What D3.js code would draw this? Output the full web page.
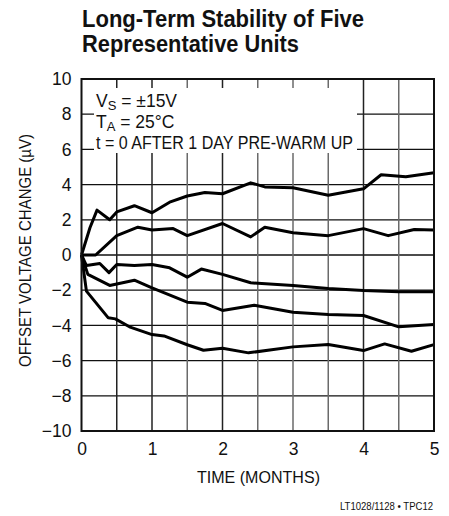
<!DOCTYPE html>
<html><head><meta charset="utf-8">
<script src="https://cdn.jsdelivr.net/npm/d3@7"></script>
<style>
html,body{margin:0;padding:0;background:#fff;}
svg{display:block;}
text{font-family:"Liberation Sans",Arial,sans-serif;fill:#111;}
</style></head>
<body>
<svg id="c" width="449" height="516"></svg>
<script>
// ---- data ----
const titleLines = ["Long-Term Stability of Five", "Representative Units"];
const xTicks = [0, 1, 2, 3, 4, 5];
const xGrid = [0.5, 1, 1.5, 2, 2.5, 3, 3.5, 4, 4.5];
const yTicks = [10, 8, 6, 4, 2, 0, -2, -4, -6, -8, -10];
const yTickLabels = ["10", "8", "6", "4", "2", "0", "\u22122", "\u22124", "\u22126", "\u22128", "\u221210"];
const xLabel = "TIME (MONTHS)";
const yLabel = "OFFSET VOLTAGE CHANGE (\u00B5V)";
const footnote = "LT1028/1128 \u2022 TPC12";

const unit1 = [[0,0],[0.12,1.55],[0.22,2.55],[0.4,2.0],[0.5,2.45],[0.75,2.8],[1.0,2.4],[1.25,3.0],[1.5,3.35],[1.75,3.55],[2.0,3.48],[2.4,4.1],[2.6,3.87],[3.0,3.82],[3.5,3.4],[4.0,3.76],[4.25,4.56],[4.6,4.44],[5.0,4.67]];
const unit2 = [[0,0],[0.2,0],[0.5,1.1],[0.8,1.58],[1.0,1.42],[1.3,1.5],[1.5,1.1],[2.0,1.79],[2.4,1.03],[2.6,1.58],[3.0,1.26],[3.5,1.1],[4.0,1.5],[4.35,1.1],[4.72,1.45],[5.0,1.42]];
const unit3 = [[0,0],[0.07,-0.6],[0.26,-0.48],[0.39,-1.0],[0.5,-0.54],[0.75,-0.6],[1.0,-0.54],[1.25,-0.73],[1.5,-1.26],[1.7,-0.8],[2.0,-1.1],[2.4,-1.58],[3.0,-1.73],[3.5,-1.9],[4.0,-2.02],[4.5,-2.09],[5.0,-2.09]];
const unit4 = [[0,0],[0.09,-1.1],[0.4,-1.73],[0.75,-1.43],[1.0,-1.87],[1.5,-2.68],[1.75,-2.75],[2.0,-3.15],[2.45,-2.85],[3.0,-3.25],[3.5,-3.38],[4.0,-3.44],[4.5,-4.08],[5.0,-3.95]];
const unit5 = [[0,0],[0.07,-2.05],[0.38,-3.57],[0.48,-3.63],[0.68,-4.08],[1.0,-4.52],[1.17,-4.6],[1.5,-5.1],[1.73,-5.41],[2.0,-5.3],[2.37,-5.56],[3.0,-5.22],[3.5,-5.09],[4.0,-5.43],[4.3,-5.05],[4.68,-5.47],[5.0,-5.09]];
const units = [unit1, unit2, unit3, unit4, unit5];

// ---- layout ----
const svg = d3.select("#c");
const L = 81.5, R = 434, T = 79, B = 431;
const x = d3.scaleLinear().domain([0, 5]).range([L, R]);
const y = d3.scaleLinear().domain([-10, 10]).range([B, T]);

function fit(sel, w) {
  return sel.attr("textLength", w).attr("lengthAdjust", "spacingAndGlyphs");
}

// title
fit(svg.append("text").attr("x", 82).attr("y", 27)
  .style("font-size", "23.5px").style("font-weight", "bold").text(titleLines[0]), 282);
fit(svg.append("text").attr("x", 82).attr("y", 52)
  .style("font-size", "23.5px").style("font-weight", "bold").text(titleLines[1]), 217);

// grid
const g = svg.append("g");
g.selectAll("line.h").data(yTicks.filter(d => d > -10 && d < 10)).join("line")
  .attr("x1", L).attr("x2", R).attr("y1", d => y(d)).attr("y2", d => y(d))
  .attr("stroke", "#111").attr("stroke-width", 1.3);
g.selectAll("line.v").data(xGrid).join("line")
  .attr("x1", d => x(d)).attr("x2", d => x(d)).attr("y1", T).attr("y2", B)
  .attr("stroke", d => (d === 0.5 || d === 1 || d === 2 || d === 4) ? "#222" : "#6a6a6a")
  .attr("stroke-width", 1.5);

// annotation box (white background over grid)
svg.append("rect").attr("x", 94).attr("y", 88).attr("width", 263).attr("height", 65).attr("fill", "#fff");
const ann = svg.append("g").style("font-size", "17.5px");
const t1 = ann.append("text").attr("x", 96).attr("y", 107);
t1.append("tspan").text("V");
t1.append("tspan").attr("dy", 3).style("font-size", "13px").text("S");
t1.append("tspan").attr("dy", -3).text(" = \u00B115V");
const t2 = ann.append("text").attr("x", 96).attr("y", 128);
t2.append("tspan").text("T");
t2.append("tspan").attr("dy", 3).style("font-size", "13px").text("A");
t2.append("tspan").attr("dy", -3).text(" = 25\u00B0C");
fit(ann.append("text").attr("x", 96).attr("y", 148.5).text("t = 0 AFTER 1 DAY PRE-WARM UP"), 257);

// data lines
const line = d3.line().x(d => x(d[0])).y(d => y(d[1]));
svg.append("g").selectAll("path").data(units).join("path")
  .attr("d", line).attr("fill", "none").attr("stroke", "#000")
  .attr("stroke-width", 3).attr("stroke-linejoin", "round");

// frame
svg.append("rect").attr("x", L).attr("y", T).attr("width", R - L).attr("height", B - T)
  .attr("fill", "none").attr("stroke", "#111").attr("stroke-width", 2);

// axes labels
const yAxis = d3.axisLeft(y).tickValues(yTicks).tickSize(0).tickPadding(10)
  .tickFormat((d, i) => yTickLabels[i]);
const ya = svg.append("g").attr("transform", `translate(${L},0)`).call(yAxis);
ya.select(".domain").remove();
ya.selectAll("text").style("font-size", "17.5px").attr("fill", "#111")
  .style("font-family", '"Liberation Sans",Arial,sans-serif');

const xAxis = d3.axisBottom(x).tickValues(xTicks).tickSize(0).tickPadding(12)
  .tickFormat(d3.format("d"));
const xa = svg.append("g").attr("transform", `translate(0,${B})`).call(xAxis);
xa.select(".domain").remove();
xa.selectAll("text").style("font-size", "17.5px").attr("fill", "#111")
  .style("font-family", '"Liberation Sans",Arial,sans-serif');

fit(svg.append("text").attr("x", 197).attr("y", 483)
  .style("font-size", "17px").text(xLabel), 123);
fit(svg.append("text").attr("transform", `translate(31,367) rotate(-90)`)
  .style("font-size", "17px").text(yLabel), 233);
fit(svg.append("text").attr("x", 340).attr("y", 510)
  .style("font-size", "11px").text(footnote), 93);
</script>
</body></html>
